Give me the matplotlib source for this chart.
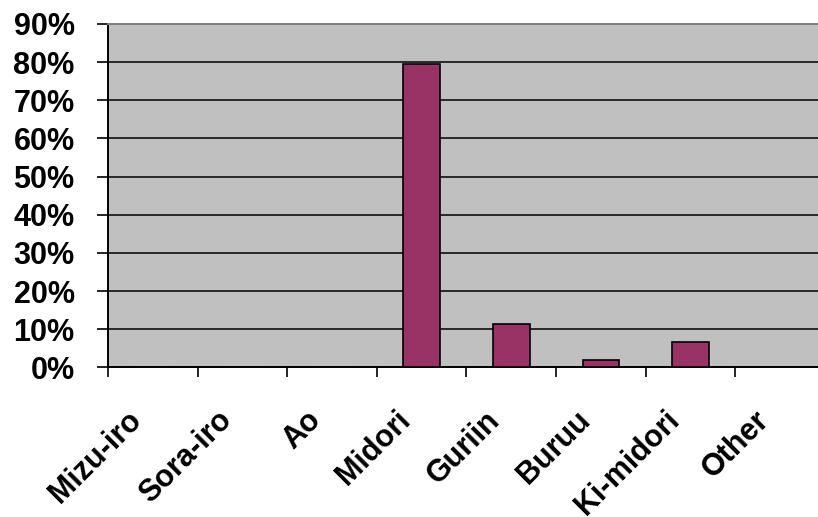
import numpy as np
import matplotlib
matplotlib.use("Agg")
import matplotlib.pyplot as plt
import matplotlib.ticker as mticker
from matplotlib.transforms import ScaledTranslation

plt.rcParams["font.family"] = ["Liberation Sans", "DejaVu Sans"]
plt.rcParams["font.weight"] = "bold"

# Share of answers per colour word
categories = ["Mizu-iro", "Sora-iro", "Ao", "Midori", "Guriin", "Buruu", "Ki-midori", "Other"]
shares = [0.0, 0.0, 0.0, 79.4, 11.4, 1.9, 6.7, 0.0]
y_ticks = [0, 10, 20, 30, 40, 50, 60, 70, 80, 90]

BAR = "#993366"
PLOT_BG = "#C0C0C0"

fig = plt.figure(figsize=(8.18, 5.17), dpi=100)
ax = fig.add_axes([0.132, 0.2892, 0.8765, 0.6644])
ax.set_facecolor(PLOT_BG)

x = np.arange(len(categories))
ax.bar(x, shares, width=0.41, color=BAR, edgecolor="black", linewidth=1.2, zorder=3)

ax.set_xlim(-0.5, len(categories) - 0.5)
ax.set_ylim(0, 90)

# y axis: percent labels, black gridlines
ax.set_yticks(y_ticks)
ax.yaxis.set_major_formatter(mticker.FuncFormatter(lambda v, p: f"{int(v)}%"))
ax.tick_params(axis="y", length=8, width=1.2, pad=16, labelsize=22, direction="out")
ax.grid(axis="y", color="black", linewidth=1.1, zorder=1)

# x axis: ticks between categories, labels under the bars
ax.set_xticks(np.arange(len(categories) + 1) - 0.5)
ax.set_xticklabels([])
ax.set_xticks(x, minor=True)
ax.set_xticklabels(categories, minor=True, rotation=45, ha="right", va="top",
                   rotation_mode="anchor", fontsize=22)
ax.tick_params(axis="x", which="major", length=7, width=1.2, direction="out")
ax.tick_params(axis="x", which="minor", length=0, pad=20)
shift = ScaledTranslation(-0.26, -0.10, fig.dpi_scale_trans)
for lab in ax.get_xticklabels(minor=True):
    lab.set_transform(lab.get_transform() + shift)

for side in ["left", "bottom"]:
    ax.spines[side].set_color("black")
    ax.spines[side].set_linewidth(1.4)
ax.spines["top"].set_color("#808080")
ax.spines["top"].set_linewidth(1.4)
ax.spines["right"].set_visible(False)

fig.savefig("out.png", dpi=100)
